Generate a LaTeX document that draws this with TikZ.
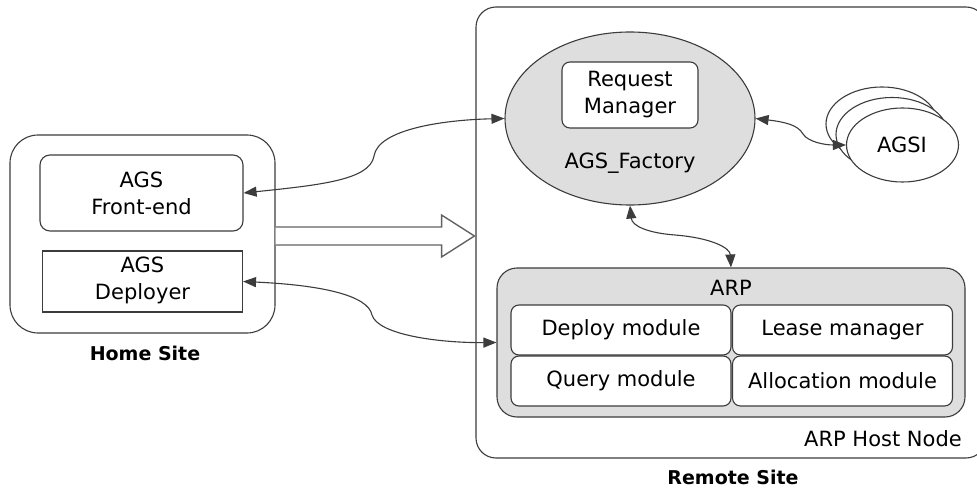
\documentclass[tikz,border=0pt]{standalone}
\usepackage{fontspec}
\setmainfont{DejaVu Sans}
\usetikzlibrary{shapes.geometric,arrows.meta,calc}
\definecolor{ln}{HTML}{3C3C3C}
\definecolor{gfill}{HTML}{DEDEDE}
\tikzset{
  box/.style={draw=ln, line width=1.1pt, fill=white, inner sep=0pt},
  rbox/.style={box, rounded corners=#1},
  lbl/.style={inner sep=0pt, align=center, font=\fontsize{21}{27}\selectfont},
  blbl/.style={inner sep=0pt, font=\fontsize{19}{23}\selectfont\bfseries},
  link/.style={draw=ln, line width=1.1pt, {Triangle[length=13pt,width=10pt]}-{Triangle[length=13pt,width=10pt]}},
  oval/.style={ellipse, draw=ln, line width=1.1pt, fill=white, minimum width=112pt, minimum height=74pt, inner sep=0pt},
}
\begin{document}
\begin{tikzpicture}[x=1pt,y=-1pt]
\useasboundingbox (0,0) rectangle (977,489);
% Home site
\node[rbox=28pt, minimum width=265pt, minimum height=198pt] (home) at (142.5,234) {};
\node[rbox=10pt, minimum width=203pt, minimum height=76pt] (fe) at (141.5,193) {};
\node[lbl] (fetext) at (141.5,193) {AGS\\Front-end};
\node[box, minimum width=200pt, minimum height=61pt] (dep) at (142.5,281.5) {};
\node[lbl] (deptext) at (142.5,280) {AGS\\Deployer};
\node[blbl] (hometext) at (145,353) {Home Site};
% Remote site
\node[rbox=20pt, minimum width=510pt, minimum height=451pt] (remote) at (731,232.5) {};
\node[lbl, anchor=base east] (hostnode) at (962,446) {ARP Host Node};
\node[blbl] (remotetext) at (733,477) {Remote Site};
% Factory
\node[ellipse, draw=ln, line width=1.1pt, fill=gfill, minimum width=250pt, minimum height=173pt, inner sep=0pt] (fac) at (630,118.5) {};
\node[rbox=8pt, minimum width=136pt, minimum height=66pt] (rm) at (630,95) {};
\node[lbl] (rmtext) at (630,95) {Request\\Manager};
\node[lbl] (factext) at (630,163) {AGS\_Factory};
% AGSI stack
\node[oval] (agsi3) at (882,124) {};
\node[oval] (agsi2) at (892,134.5) {};
\node[oval] (agsi) at (902.5,145) {};
\node[lbl] (agsitext) at (902,145) {AGSI};
% ARP
\node[draw=ln, line width=1.1pt, fill=gfill, rounded corners=20pt, minimum width=468pt, minimum height=149pt, inner sep=0pt] (arp) at (731,342.5) {};
\node[lbl] (arptext) at (731,288) {ARP};
\node[rbox=8pt, minimum width=220pt, minimum height=50pt] (dm) at (621,330) {};
\node[lbl] at (dm) {Deploy module};
\node[rbox=8pt, minimum width=220pt, minimum height=50pt] (lm) at (842.5,330) {};
\node[lbl] at (lm) {Lease manager};
\node[rbox=8pt, minimum width=220pt, minimum height=50pt] (qm) at (621,381) {};
\node[lbl] at (qm) {Query module};
\node[rbox=8pt, minimum width=220pt, minimum height=50pt] (am) at (842.5,381) {};
\node[lbl] at (am) {Allocation module};
% connectors
\coordinate (m1) at (374,156);
\coordinate (m2) at (372,315);
\coordinate (m3) at (675,235);
\coordinate (m4) at (803,134);
\draw[link] (fe.east) .. controls (320,185) and (370,180) .. (m1) .. controls (378,130) and (440,120) .. (fac.west);
\draw[link] (dep.east) .. controls (320,285) and (368,295) .. (m2) .. controls (378,335) and (440,343) .. (arp.west);
\draw[link] (fac.south) .. controls (632,226) and (648,233) .. (m3) .. controls (712,238) and (730,248) .. (arp.north);
\draw[link] (fac.east) .. controls (785,122) and (798,125) .. (m4) .. controls (808,142) and (825,145) .. (agsi.west);
% fat hollow arrow
\draw[draw=ln!80, line width=1.4pt, fill=white, line join=miter]
  ($(home.east)+(0,-7)$) -- ($(home.east)+(166,-7)$) -- ($(home.east)+(166,-19)$) -- ($(remote.west)+(-1,3.5)$) -- ($(home.east)+(166,23)$) -- ($(home.east)+(166,11)$) -- ($(home.east)+(0,11)$);
\end{tikzpicture}
\end{document}
